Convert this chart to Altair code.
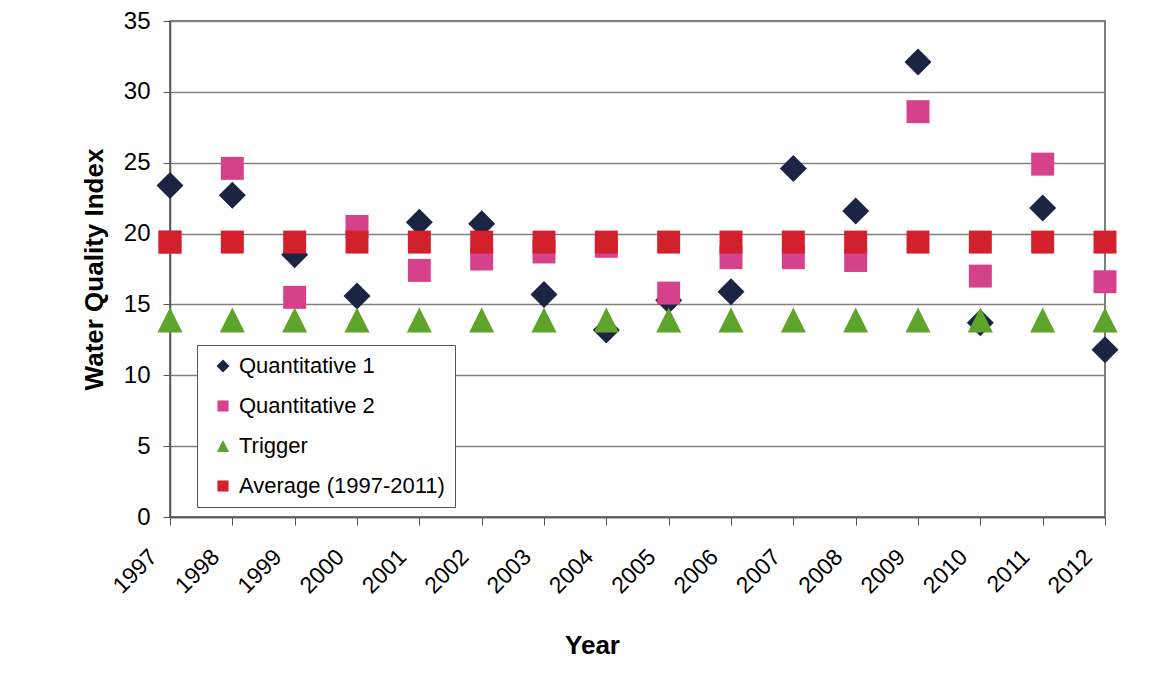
import altair as alt
import pandas as pd

years = [1997, 1998, 1999, 2000, 2001, 2002, 2003, 2004, 2005, 2006, 2007, 2008, 2009, 2010, 2011, 2012]
quant1 = [23.4, 22.7, 18.5, 15.6, 20.8, 20.7, 15.7, 13.2, 15.3, 15.9, 24.6, 21.6, 32.1, 13.7, 21.8, 11.8]
quant2 = [19.4, 24.6, 15.5, 20.5, 17.4, 18.2, 18.7, 19.1, 15.8, 18.3, 18.3, 18.1, 28.6, 17.0, 24.9, 16.6]
trigger = [13.9, 13.9, 13.9, 13.9, 13.9, 13.9, 13.9, 13.9, 13.9, 13.9, 13.9, 13.9, 13.9, 13.9, 13.9, 13.9]
average = [19.4, 19.4, 19.4, 19.4, 19.4, 19.4, 19.4, 19.4, 19.4, 19.4, 19.4, 19.4, 19.4, 19.4, 19.4, 19.4]

series_names = ["Quantitative 1", "Quantitative 2", "Trigger", "Average (1997-2011)"]
series_values = [quant1, quant2, trigger, average]
colors = ["#1b2442", "#d6418c", "#5ea42a", "#d2202c"]
shapes = [
    "M-1,0L0,-1L1,0L0,1Z",
    "M-0.85,-0.85L0.85,-0.85L0.85,0.85L-0.85,0.85Z",
    "M0,-0.93L0.93,0.93L-0.93,0.93Z",
    "M-0.85,-0.85L0.85,-0.85L0.85,0.85L-0.85,0.85Z",
]

rows = []
for name, vals in zip(series_names, series_values):
    for y, v in zip(years, vals):
        rows.append({"Year": y, "Value": v, "Series": name})
df = pd.DataFrame(rows)

FONT = "Liberation Sans"

chart = alt.Chart(df).mark_point(filled=True, opacity=1, strokeWidth=0, size=729).encode(
    x=alt.X("Year:Q",
            scale=alt.Scale(domain=[1997, 2012], nice=False, zero=False),
            axis=alt.Axis(values=years, format="d", labelAngle=315, grid=False,
                          labelAlign="right", labelBaseline="middle",
                          labelFontSize=23, labelFont=FONT, labelColor="#000",
                          tickSize=8, tickColor="#555", domainColor="#555", domainWidth=1.5,
                          labelPadding=28, labelOffset=-17,
                          title="Year", titleFont=FONT, titleFontSize=26, titleFontWeight="bold",
                          titleColor="#000", titlePadding=35, titleX=422, titleAlign="center")),
    y=alt.Y("Value:Q",
            scale=alt.Scale(domain=[0, 35], nice=False),
            axis=alt.Axis(values=[0, 5, 10, 15, 20, 25, 30, 35],
                          labelFontSize=24, labelFont=FONT, labelColor="#000",
                          tickSize=7, tickColor="#555", domainColor="#555", domainWidth=1.5,
                          gridColor="#808080", gridWidth=1.3, labelPadding=13,
                          title="Water Quality Index", titleFont=FONT, titleFontSize=26,
                          titleFontWeight="bold", titleColor="#000", titlePadding=16)),
    color=alt.Color("Series:N", scale=alt.Scale(domain=series_names, range=colors),
                    legend=alt.Legend(title=None, orient="none", legendX=27, legendY=324,
                                      strokeColor="#555", fillColor="#fff", padding=10,
                                      rowPadding=18, labelFontSize=22, labelFont=FONT,
                                      labelColor="#000", labelLimit=400, symbolSize=170,
                                      symbolStrokeWidth=0, symbolOffset=5, labelOffset=5)),
    shape=alt.Shape("Series:N", scale=alt.Scale(domain=series_names, range=shapes)),
).properties(
    width=935, height=496,
    autosize=alt.AutoSizeParams(type="none"),
    padding={"left": 162, "top": 13, "right": 50, "bottom": 153},
    background="#ffffff",
).configure_view(stroke="#555", strokeWidth=1.5)

chart.save("out.html", embed_options={"renderer": "svg", "actions": False})
